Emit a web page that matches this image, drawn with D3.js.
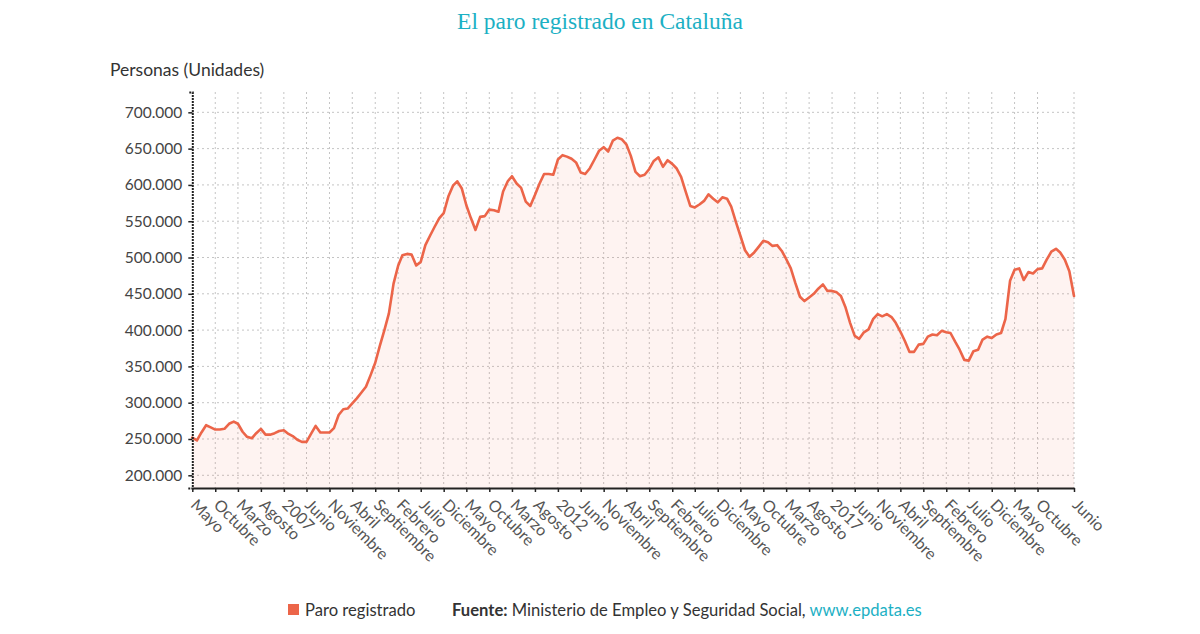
<!DOCTYPE html>
<html><head><meta charset="utf-8">
<script src="https://cdn.jsdelivr.net/npm/d3@7"></script>
<style>body{margin:0;background:#fff;} svg{display:block}</style>
</head><body>
<svg id="c" width="1200" height="634"></svg>
<script>
// ---------- data ----------
const chartTitle = "El paro registrado en Cataluña";
const yAxisTitle = "Personas (Unidades)";
const seriesName = "Paro registrado";
const startYear = 2005, startMonth = 4; // mayo 2005 (0-based month)
const paro = [
252000,248000,259000,269000,266000,263000,263000,264000,271000,274000,
271000,260000,253000,251000,258000,264000,256000,256000,258000,261000,
262000,257000,254000,249000,246000,246000,257000,268000,259000,259000,
259000,265000,283000,291000,292000,299000,306000,314000,322000,338000,
355000,378000,400000,423000,464000,489000,503000,505000,504000,489000,
494000,517000,530000,542000,554000,561000,584000,599000,605000,595000,
572000,554000,538000,556000,557000,566000,565000,563000,591000,605000,
612000,602000,596000,577000,571000,586000,602000,615000,615000,614000,
635000,641000,639000,636000,631000,617000,615000,623000,635000,647000,
652000,646000,661000,665000,663000,656000,640000,618000,612000,614000,
622000,633000,638000,625000,634000,629000,623000,611000,591000,571000,
569000,573000,578000,587000,581000,576000,583000,581000,570000,549000,
530000,510000,501000,507000,515000,523000,521000,516000,517000,509000,
498000,485000,465000,446000,440000,445000,450000,457000,463000,454000,
454000,452000,447000,431000,410000,392000,388000,397000,401000,415000,
422000,419000,422000,418000,410000,398000,385000,370000,370000,380000,
381000,391000,394000,393000,399000,397000,396000,384000,373000,359000,
358000,371000,373000,387000,391000,389000,394000,396000,415000,468000,
483000,485000,469000,480000,478000,484000,485000,497000,508000,512000,
507000,497000,481000,447000
];
const tickLabels = ["Mayo","Octubre","Marzo","Agosto","2007","Junio","Noviembre","Abril","Septiembre","Febrero",
"Julio","Diciembre","Mayo","Octubre","Marzo","Agosto","2012","Junio","Noviembre","Abril",
"Septiembre","Febrero","Julio","Diciembre","Mayo","Octubre","Marzo","Agosto","2017","Junio",
"Noviembre","Abril","Septiembre","Febrero","Julio","Diciembre","Mayo","Octubre","Junio"];
const yTickValues = [200000,250000,300000,350000,400000,450000,500000,550000,600000,650000,700000];
const sourceLabel = "Fuente:";
const sourceText = " Ministerio de Empleo y Seguridad Social, ";
const sourceLink = "www.epdata.es";

// ---------- setup ----------
const lineColor = "#ec6549", teal = "#1cb0c4";
const sans = "Lato, 'Open Sans', sans-serif";
const svg = d3.select("#c");
const dates = paro.map((v,i) => new Date(startYear, startMonth + i, 1));
const data = paro.map((v,i) => ({d: dates[i], v}));
const tickDates = tickLabels.map((t,k) => k < tickLabels.length - 1 ? dates[k*5] : dates[dates.length-1]);

const x = d3.scaleTime().domain([dates[0], dates[dates.length-1]]).range([192.3, 1074]);
const y = d3.scaleLinear().domain([182500, 728000]).range([488, 92]);
const es = d3.formatLocale({decimal: ",", thousands: ".", grouping: [3], currency: ["", "€"]});
const fmt = es.format(",d");

// title
svg.append("text").attr("x", 600).attr("y", 29).attr("text-anchor", "middle")
  .attr("font-family", "'Liberation Serif', 'Times New Roman', serif").attr("font-size", 23.5)
  .attr("fill", teal).text(chartTitle);
svg.append("text").attr("x", 110).attr("y", 76).attr("font-family", sans).attr("font-size", 17.5)
  .attr("fill", "#333").text(yAxisTitle);

// grid
const g = svg.append("g");
g.selectAll("line.h").data(yTickValues).join("line")
  .attr("x1", 192).attr("x2", 1074).attr("y1", d => y(d)).attr("y2", d => y(d))
  .attr("stroke", "#c4c4c4").attr("stroke-width", 1).attr("stroke-dasharray", "2,3");
g.selectAll("line.v").data(tickDates.slice(1)).join("line")
  .attr("x1", d => x(d)).attr("x2", d => x(d)).attr("y1", 92).attr("y2", 488)
  .attr("stroke", "#c4c4c4").attr("stroke-width", 1).attr("stroke-dasharray", "2,3");

// area + line
svg.append("path").datum(data)
  .attr("d", d3.area().x(d => x(d.d)).y0(y(182500)).y1(d => y(d.v)))
  .attr("fill", lineColor).attr("fill-opacity", 0.08);
svg.append("path").datum(data)
  .attr("d", d3.line().x(d => x(d.d)).y(d => y(d.v)))
  .attr("fill", "none").attr("stroke", lineColor).attr("stroke-width", 2.6)
  .attr("stroke-linejoin", "round").attr("stroke-linecap", "round");

// y axis
const ya = svg.append("g").attr("transform", "translate(192.3,0)")
  .call(d3.axisLeft(y).tickValues(yTickValues).tickFormat(fmt).tickSize(4).tickPadding(6));
ya.select(".domain").attr("stroke", "#222").attr("stroke-width", 2).attr("stroke-dasharray", "2,1");
ya.selectAll(".tick line").attr("stroke", "#222").attr("stroke-width", 1.5);
ya.selectAll(".tick text").attr("font-family", sans).attr("font-size", 15.5).attr("fill", "#444");

// x axis
const xa = svg.append("g").attr("transform", "translate(0,488)")
  .call(d3.axisBottom(x).tickValues(tickDates).tickFormat((d,i) => tickLabels[i]).tickSize(4).tickSizeOuter(0));
xa.select(".domain").attr("stroke", "#222").attr("stroke-width", 2);
xa.selectAll(".tick line").attr("stroke", "#222").attr("stroke-width", 1.5);
xa.selectAll(".tick text").attr("font-family", sans).attr("font-size", 16).attr("fill", "#555")
  .attr("text-anchor", "start").attr("y", 0).attr("dy", 0)
  .attr("transform", "translate(-3,18) rotate(45)");

// legend + source
svg.append("rect").attr("x", 288).attr("y", 604).attr("width", 11).attr("height", 11).attr("fill", lineColor);
svg.append("text").attr("x", 305).attr("y", 615.5).attr("font-family", sans).attr("font-size", 16.6)
  .attr("fill", "#333").text(seriesName);
const src = svg.append("text").attr("x", 452).attr("y", 615.5).attr("font-family", sans).attr("font-size", 16.6).attr("fill", "#333");
src.append("tspan").attr("font-weight", "bold").text(sourceLabel);
src.append("tspan").text(sourceText);
src.append("tspan").attr("fill", teal).text(sourceLink);
</script>
</body></html>
